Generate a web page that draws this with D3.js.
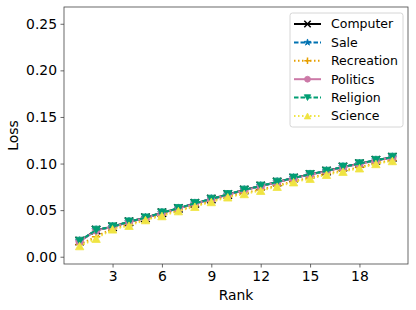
<!DOCTYPE html>
<html>
<head>
<meta charset="utf-8">
<script src="https://cdn.jsdelivr.net/npm/d3@7"></script>
<style>
body{margin:0;background:#fff;}
svg{font-family:"DejaVu Sans",sans-serif;}
</style>
</head>
<body>
<svg id="chart" width="416" height="310"></svg>
<script>
// data
var ranks = d3.range(1, 21);
var computer   = [0.0168,0.0286,0.0322,0.0375,0.0418,0.0472,0.0519,0.0573,0.0619,0.0668,0.0716,0.0759,0.0802,0.0845,0.0884,0.0920,0.0963,0.0999,0.1035,0.1068];
var sale       = [0.0167,0.0285,0.0321,0.0374,0.0417,0.0471,0.0518,0.0572,0.0618,0.0667,0.0715,0.0758,0.0801,0.0844,0.0883,0.0919,0.0962,0.0998,0.1034,0.1067];
var recreation = [0.0130,0.0215,0.0302,0.0345,0.0402,0.0447,0.0498,0.0547,0.0597,0.0646,0.0684,0.0720,0.0763,0.0810,0.0848,0.0890,0.0925,0.0960,0.1005,0.1036];
var politics   = [0.0165,0.0283,0.0319,0.0372,0.0415,0.0469,0.0516,0.0570,0.0616,0.0665,0.0713,0.0756,0.0799,0.0842,0.0881,0.0917,0.0960,0.0996,0.1032,0.1065];
var religion   = [0.0169,0.0287,0.0323,0.0376,0.0419,0.0473,0.0520,0.0574,0.0620,0.0670,0.0717,0.0760,0.0803,0.0846,0.0885,0.0920,0.0964,0.1000,0.1036,0.1070];
var science    = [0.0115,0.0194,0.0294,0.0333,0.0394,0.0437,0.0490,0.0537,0.0588,0.0638,0.0674,0.0709,0.0752,0.0800,0.0838,0.0880,0.0913,0.0950,0.0996,0.1028];
var xTicks = [3,6,9,12,15,18];
var yTicks = [0,0.05,0.10,0.15,0.20,0.25];

var series = [
	{name:"Computer",   values:computer,   color:"#000000", dash:null,  marker:"x"},
	{name:"Sale",       values:sale,       color:"#0072b2", dash:"4.5,2", marker:"star"},
	{name:"Recreation", values:recreation, color:"#e69f00", dash:"1.5,2.5", marker:"plus"},
	{name:"Politics",   values:politics,   color:"#cc79a7", dash:null,  marker:"o"},
	{name:"Religion",   values:religion,   color:"#009e73", dash:"4.5,2", marker:"v"},
	{name:"Science",    values:science,    color:"#f0e442", dash:"1.5,2.5", marker:"^"}
];

var svg = d3.select("#chart");
var L = 64, R = 408, T = 7, B = 264;
var x = d3.scaleLinear().domain([0.05, 20.95]).range([L, R]);
var y = d3.scaleLinear().domain([-0.0078, 0.268]).range([B, T]);

// axes
var xAxis = svg.append("g").attr("transform","translate(0,"+B+")")
	.call(d3.axisBottom(x).tickValues(xTicks).tickFormat(d3.format("d")).tickSize(3.5).tickPadding(3.5));
var yAxis = svg.append("g").attr("transform","translate("+L+",0)")
	.call(d3.axisLeft(y).tickValues(yTicks).tickFormat(d3.format(".2f")).tickSize(3.5).tickPadding(3.5));
[xAxis,yAxis].forEach(function(a){
	a.select(".domain").remove();
	a.selectAll("text").style("font-size","13.9px").attr("fill","#000").style("font-family","DejaVu Sans");
	a.selectAll("line").attr("stroke","#444").attr("stroke-width",0.8);
});

function markerPath(type, s)
{
	var p = d3.path();
	if(type=="x"){
		p.moveTo(-s,-s);p.lineTo(s,s);p.moveTo(-s,s);p.lineTo(s,-s);
		return p.toString();
	}
	if(type=="plus"){
		p.moveTo(-s,0);p.lineTo(s,0);p.moveTo(0,-s);p.lineTo(0,s);
		return p.toString();
	}
	if(type=="o") return d3.symbol(d3.symbolCircle, Math.PI*s*s*0.85)();
	if(type=="star") return d3.symbol(d3.symbolStar, s*s*1.3)();
	if(type=="v") return "M"+(-s)+","+(-s*0.9)+"L"+s+","+(-s*0.9)+"L0,"+(s*0.9)+"Z";
	if(type=="^") return "M"+(-s)+","+(s*0.9)+"L"+s+","+(s*0.9)+"L0,"+(-s*0.9)+"Z";
}
function drawMarker(g, type, color, s)
{
	var open = (type=="x"||type=="plus");
	g.append("path").attr("d",markerPath(type,s))
		.attr("fill",open?"none":color)
		.attr("stroke",color)
		.attr("stroke-width",open?1.5:0.8);
}

var line = d3.line().x(function(d,i){return x(ranks[i]);}).y(function(d){return y(d);});
var plot = svg.append("g");
series.forEach(function(s){
	plot.append("path").datum(s.values)
		.attr("d",line)
		.attr("fill","none")
		.attr("stroke",s.color)
		.attr("stroke-width",2)
		.attr("stroke-dasharray",s.dash);
	s.values.forEach(function(v,i){
		var g = plot.append("g").attr("transform","translate("+x(ranks[i])+","+y(v)+")");
		drawMarker(g, s.marker, s.color, 4.2);
	});
});

// frame
svg.append("rect").attr("x",L).attr("y",T).attr("width",R-L).attr("height",B-T)
	.attr("fill","none").attr("stroke","#444").attr("stroke-width",0.8);

// axis labels
svg.append("text").attr("x",(L+R)/2).attr("y",300).attr("text-anchor","middle")
	.style("font-size","13.9px").text("Rank");
svg.append("text").attr("transform","translate(18,"+((T+B)/2)+") rotate(-90)")
	.attr("text-anchor","middle").style("font-size","13.9px").text("Loss");

// legend
var leg = svg.append("g");
leg.append("rect").attr("x",290).attr("y",13).attr("width",113).attr("height",114).attr("rx",2.5)
	.attr("fill","#fff").attr("fill-opacity",0.8).attr("stroke","#ccc").attr("stroke-width",0.8);
series.forEach(function(s,i){
	var cy = 24 + i*18.4;
	leg.append("line").attr("x1",294).attr("x2",321).attr("y1",cy).attr("y2",cy)
		.attr("stroke",s.color).attr("stroke-width",2).attr("stroke-dasharray",s.dash);
	var g = leg.append("g").attr("transform","translate(307.5,"+cy+")");
	drawMarker(g, s.marker, s.color, 3.2);
	leg.append("text").attr("x",331).attr("y",cy).attr("dy","0.35em")
		.style("font-size","12.5px").text(s.name);
});
</script>
</body>
</html>
